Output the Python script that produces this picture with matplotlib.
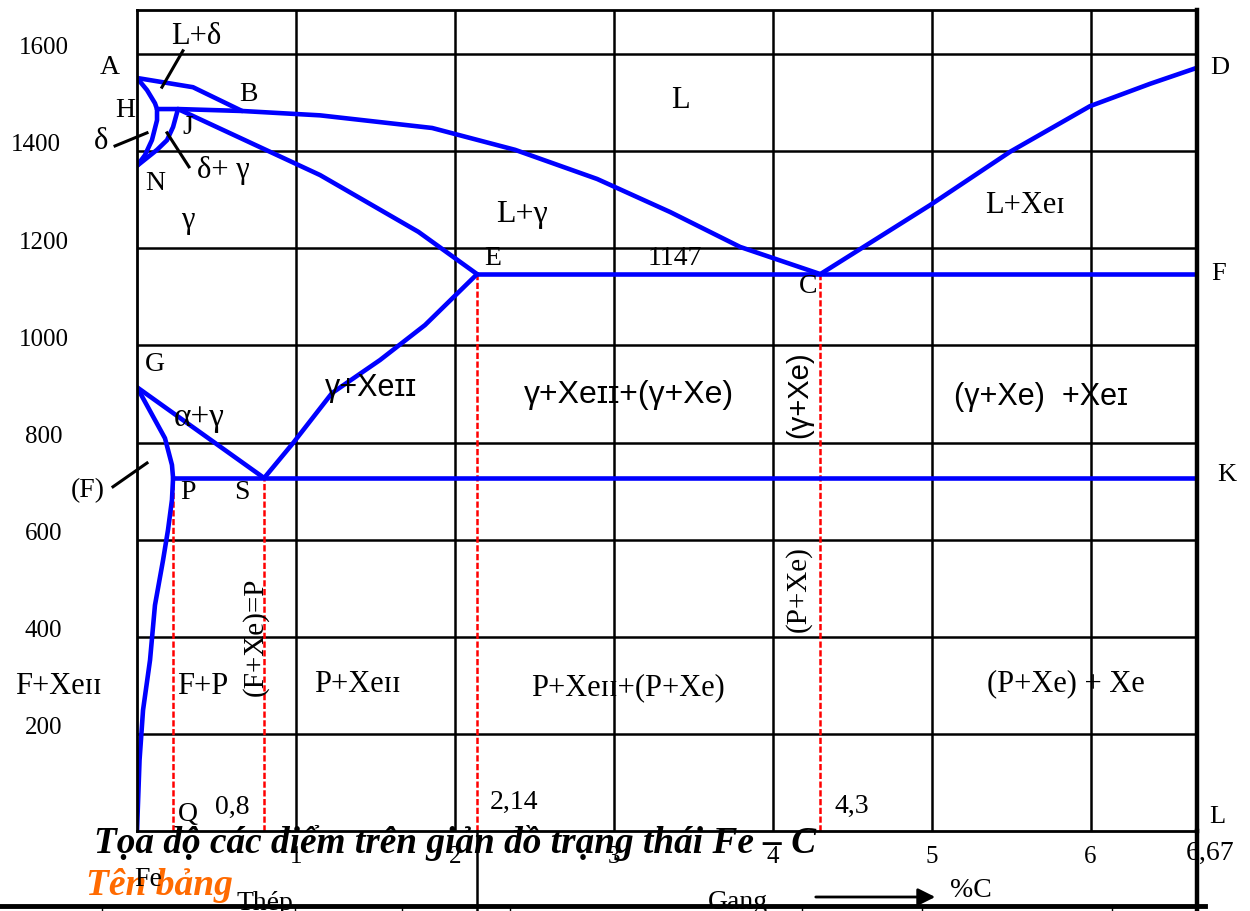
import matplotlib.pyplot as plt
from matplotlib.lines import Line2D
from matplotlib.patches import FancyArrowPatch
from matplotlib.transforms import blended_transform_factory

plt.rcParams['font.family'] = ['Liberation Serif', 'DejaVu Serif']
SANS = ['Liberation Sans', 'DejaVu Sans']

# key points of the Fe - C diagram, (%C, deg C)
A = (0.0, 1551)
H = (0.126, 1487)
J = (0.258, 1487)
B = (0.661, 1483)
N = (0.0, 1370)
E = (2.14, 1147)
C = (4.3, 1147)
D = (6.67, 1572)
F = (6.67, 1147)
G = (0.0, 914)
P = (0.227, 727)
S = (0.8, 727)
K = (6.67, 727)
Q = (0.0, 0)

# lines between the points
liq_ab_x = [A[0], 0.352, B[0]]
liq_ab_y = [A[1], 1532, B[1]]
liq_bc_x = [H[0], J[0], B[0], 1.152, 1.857, 2.379, 2.895, 3.354, 3.795, C[0]]
liq_bc_y = [H[1], J[1], B[1], 1474, 1448, 1403, 1343, 1275, 1203, C[1]]
liq_cd_x = [C[0], 4.99, 5.494, 5.997, 6.375, D[0]]
liq_cd_y = [C[1], 1289, 1399, 1493, 1539, D[1]]
ah_x = [A[0], 0.063, 0.113, H[0]]
ah_y = [A[1], 1526, 1499, H[1]]
hn_x = [H[0], 0.126, 0.094, 0.050, N[0]]
hn_y = [H[1], 1464, 1423, 1392, N[1]]
jn_x = [J[0], 0.227, 0.189, 0.126, N[0]]
jn_y = [J[1], 1450, 1423, 1403, N[1]]
je_x = [J[0], 1.152, 1.771, E[0]]
je_y = [J[1], 1351, 1234, E[1]]
gp_x = [G[0], 0.176, 0.220, P[0]]
gp_y = [G[1], 809, 754, P[1]]
se_x = [S[0], 0.982, 1.227, 1.529, 1.812, E[0]]
se_y = [S[1], 799, 902, 970, 1042, E[1]]
pq_x = [P[0], 0.220, 0.195, 0.164, 0.113, 0.082, 0.038, 0.016, Q[0]]
pq_y = [P[1], 682, 620, 558, 465, 352, 249, 146, Q[1]]

x_ticks = [1, 2, 3, 4, 5, 6]
y_ticks = [200, 400, 600, 800, 1000, 1200, 1400, 1600]

fig = plt.figure(figsize=(12.5, 9.11), dpi=100)
ax = fig.add_axes([137 / 1250, 80 / 911, 1060 / 1250, 821 / 911])
ax.set_xlim(0, 6.67)
ax.set_ylim(0, 1691)
ax.set_xticks(x_ticks)
ax.set_yticks(y_ticks)
ax.tick_params(length=0, labelbottom=False, labelleft=False)
ax.grid(True, color='black', lw=1.8)
ax.set_axisbelow(True)
for sp in ax.spines.values():
    sp.set_linewidth(2)
ax.spines['right'].set_linewidth(3.2)

# tick labels
tx = blended_transform_factory(ax.transData, ax.transAxes)
ty = blended_transform_factory(ax.transAxes, ax.transData)
for v in x_ticks:
    ax.text(v, -0.032, str(v), transform=tx, ha='center', va='center', fontsize=18)
ax.text(6.75, -0.027, '6,67', transform=tx, ha='center', va='center', fontsize=20)
for v in y_ticks:
    dx = -0.095 if v == 1400 else -0.088
    ax.text(dx, v + 12, str(v), transform=ty, ha='center', va='center', fontsize=18)

# isotherm verticals
red = dict(color='red', lw=1.8, ls=(0, (2.5, 1)))
ax.plot([P[0], P[0]], [0, P[1]], **red)
ax.plot([S[0], S[0]], [0, S[1]], **red)
ax.plot([E[0], E[0]], [0, E[1]], **red)
ax.plot([C[0], C[0]], [0, C[1]], **red)

blue = dict(color='#0000ff', lw=3.3, solid_capstyle='round', solid_joinstyle='round')
ax.plot(liq_ab_x, liq_ab_y, **blue)
ax.plot(liq_bc_x, liq_bc_y, **blue)
ax.plot(liq_cd_x, liq_cd_y, **blue)
ax.plot(ah_x, ah_y, **blue)
ax.plot(hn_x, hn_y, **blue)
ax.plot(jn_x, jn_y, **blue)
ax.plot(je_x, je_y, **blue)
ax.plot([E[0], F[0]], [E[1], F[1]], **blue)
ax.plot([G[0], S[0]], [G[1], S[1]], **blue)
ax.plot(gp_x, gp_y, **blue)
ax.plot(se_x, se_y, **blue)
ax.plot([P[0], K[0]], [P[1], K[1]], **blue)
ax.plot(pq_x, pq_y, **blue)

# leader lines
lead = dict(color='black', lw=2.2, clip_on=False)
ax.plot([0.289, 0.157], [1607, 1532], **lead)
ax.plot([-0.138, 0.063], [1411, 1438], **lead)
ax.plot([0.189, 0.327], [1438, 1368], **lead)
ax.plot([-0.151, 0.063], [709, 758], **lead)


def label(x, y, s, size=22, **kw):
    ax.text(x, y, s, ha='center', va='center', fontsize=size, clip_on=False, **kw)


# point letters
label(-0.170, 1572, 'A', 20)
label(0.699, 1516, 'B', 20)
label(-0.076, 1485, 'H', 20)
label(0.321, 1448, 'J', 20)
label(0.113, 1333, 'N', 20)
label(0.113, 960, 'G', 20)
label(0.321, 698, 'P', 20)
label(0.661, 698, 'S', 20)
label(0.321, 33, 'Q', 20)
label(6.816, 1572, 'D', 19)
label(6.803, 1147, 'F', 19)
label(6.859, 733, 'K', 19)
label(6.797, 29, 'L', 19)
label(E[0] + 0.1, E[1] + 33, 'E', 20)
label(C[0] - 0.075, C[1] - 25, 'C', 20)
label(3.386, 1180, '1147', 20)
label(0.598, 49, '0,8', 20)
label(2.373, 58, '2,14', 20)
label(4.50, 51, '4,3', 20)

# phase regions
label(0.371, 1637, 'L+δ')
label(-0.227, 1421, 'δ')
label(0.541, 1361, 'δ+ γ')
label(0.321, 1258, 'γ')
label(3.417, 1504, 'L')
label(2.423, 1269, 'L+γ', 23)
label(5.588, 1289, 'L+Xeɪ')
label(0.390, 851, 'α+γ', 24)
label(-0.308, 702, '(F)', 20)
label(1.473, 912, 'γ+Xeɪɪ', 22, family=SANS)
label(3.096, 898, 'γ+Xeɪɪ+(γ+Xe)', 23, family=SANS)
label(5.689, 894, '(γ+Xe)  +Xeɪ', 22, family=SANS)
label(4.166, 898, '(γ+Xe)', 21, family=SANS, rotation=90)
label(4.160, 498, '(P+Xe)', 21, rotation=90)
label(0.743, 400, '(F+Xe)=P', 21, rotation=90)
label(-0.497, 297, 'F+Xeɪɪ')
label(0.415, 297, 'F+P')
label(1.385, 301, 'P+Xeɪɪ')
label(3.090, 295, 'P+Xeɪɪ+(P+Xe)')
label(5.846, 303, '(P+Xe) + Xe')

# divider below the diagram
ax.plot([E[0], E[0]], [0, -170], color='black', lw=1.8, clip_on=False)
ax.plot([6.67, 6.67], [0, -170], color='black', lw=3.2, clip_on=False)
fig.add_artist(Line2D([0, 1205 / 1250], [1 - 905.5 / 911] * 2, transform=fig.transFigure,
                      color='black', lw=3.5))
for px in [102, 282, 295, 402, 510, 802, 922, 1112]:
    fig.add_artist(Line2D([px / 1250] * 2, [0, 1 - 906 / 911], transform=fig.transFigure,
                          color='black', lw=1))

fig.text(159 / 1250, 1 - 895 / 911, 'Tên bảng', ha='center', va='baseline', fontsize=27,
         fontweight='bold', fontstyle='italic', color='#ff6a00')
fig.text(148 / 1250, 1 - 886 / 911, 'Fe', ha='center', va='baseline', fontsize=20)
fig.text(265 / 1250, 1 - 910 / 911, 'Thép', ha='center', va='baseline', fontsize=20)
fig.text(738 / 1250, 1 - 909 / 911, 'Gang', ha='center', va='baseline', fontsize=20)
fig.text(971 / 1250, 1 - 897 / 911, '%C', ha='center', va='baseline', fontsize=20)
fig.add_artist(FancyArrowPatch((813 / 1250, 1 - 897 / 911), (938 / 1250, 1 - 897 / 911),
                               transform=fig.transFigure, arrowstyle='-|>',
                               mutation_scale=26, lw=2, color='black'))
fig.text(455 / 1250, 1 - 853 / 911, 'Tọa độ các điểm trên giản đồ trạng thái Fe – C',
         ha='center', va='baseline', fontsize=26.8, fontweight='bold', fontstyle='italic')

fig.savefig('out.png', dpi=100)
